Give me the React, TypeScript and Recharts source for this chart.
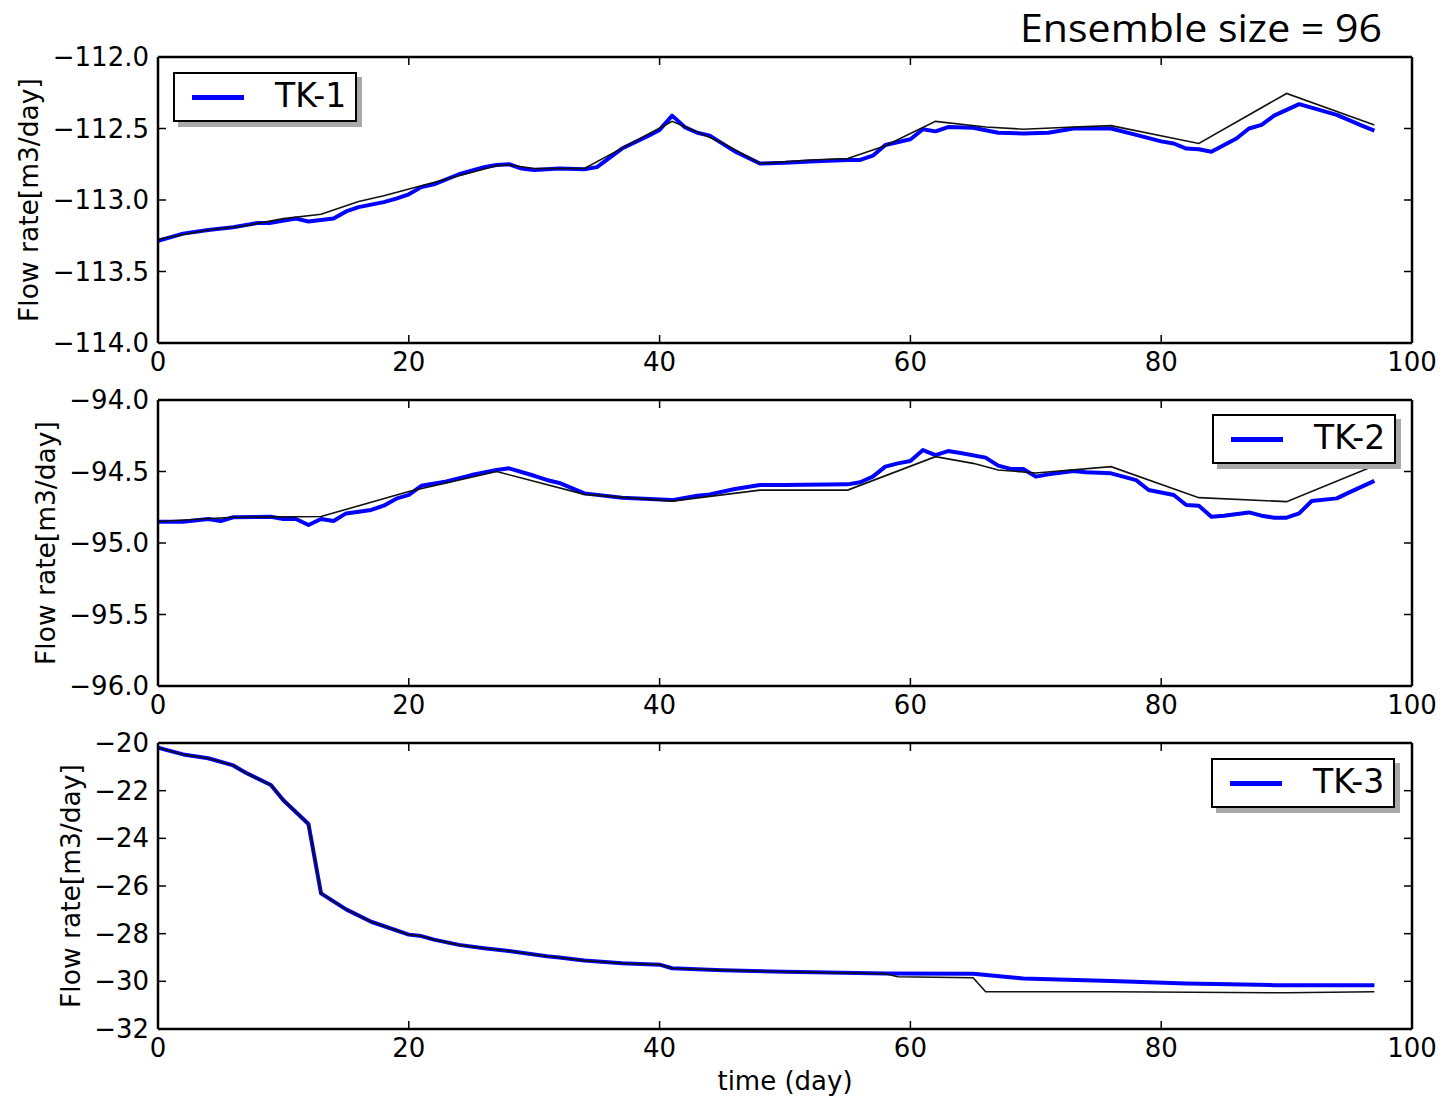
import React from 'react';
import { LineChart, Line, XAxis, YAxis, Legend, Label } from 'recharts';

// Shared x axis (simulation time in days)
const dayTicks = [0, 20, 40, 60, 80, 100];

// TK-1: ensemble mean (blue) and reference run (black)
const tk1Days = [0, 2, 4, 6, 8, 9, 11, 12, 14, 15, 16, 18, 19, 20, 21, 22, 24, 26, 27, 28, 29, 30, 32, 34, 35, 37, 39, 40, 41, 42, 43, 44, 46, 48, 50, 52, 55, 56, 57, 58, 60, 61, 62, 63, 65, 67, 69, 71, 73, 76, 78, 80, 81, 82, 83, 84, 86, 87, 88, 89, 91, 94, 96, 97];
const tk1Ensemble = [-113.285, -113.235, -113.21, -113.19, -113.16, -113.16, -113.13, -113.15, -113.13, -113.08, -113.05, -113.015, -112.99, -112.96, -112.91, -112.89, -112.82, -112.77, -112.755, -112.75, -112.78, -112.79, -112.78, -112.785, -112.77, -112.64, -112.555, -112.51, -112.41, -112.49, -112.53, -112.55, -112.66, -112.745, -112.74, -112.73, -112.72, -112.72, -112.69, -112.615, -112.575, -112.505, -112.52, -112.49, -112.495, -112.53, -112.535, -112.53, -112.5, -112.5, -112.545, -112.59, -112.605, -112.64, -112.645, -112.662, -112.57, -112.5, -112.475, -112.41, -112.33, -112.405, -112.48, -112.515];
const tk1RefDays = [0, 4, 7, 10, 13, 16, 18, 21, 24, 27, 28, 30, 34, 41, 45, 48, 52, 55, 58, 62, 66, 69, 73, 76, 83, 90, 97];
const tk1Ref = [-113.275, -113.21, -113.18, -113.13, -113.1, -113.01, -112.97, -112.9, -112.83, -112.76, -112.755, -112.78, -112.78, -112.45, -112.6, -112.745, -112.72, -112.71, -112.62, -112.45, -112.49, -112.505, -112.49, -112.48, -112.605, -112.255, -112.475];
const tk1Ticks = [-114, -113.5, -113, -112.5, -112];

// TK-2
const tk2Days = [0, 2, 4, 5, 6, 9, 10, 11, 12, 13, 14, 15, 17, 18, 19, 20, 21, 23, 25, 27, 28, 30, 31, 32, 34, 37, 41, 43, 44, 46, 48, 50, 55, 56, 57, 58, 59, 60, 61, 62, 63, 64, 66, 67, 68, 69, 70, 71, 73, 74, 76, 78, 79, 81, 82, 83, 84, 85, 87, 88, 89, 90, 91, 92, 94, 95, 97];
const tk2Ensemble = [-94.851, -94.851, -94.832, -94.846, -94.82, -94.816, -94.832, -94.832, -94.874, -94.832, -94.846, -94.793, -94.769, -94.739, -94.69, -94.664, -94.6, -94.57, -94.525, -94.49, -94.478, -94.53, -94.559, -94.58, -94.653, -94.683, -94.7, -94.669, -94.66, -94.622, -94.594, -94.594, -94.59, -94.575, -94.536, -94.466, -94.443, -94.427, -94.35, -94.385, -94.357, -94.37, -94.403, -94.459, -94.482, -94.482, -94.536, -94.52, -94.496, -94.506, -94.513, -94.56, -94.629, -94.664, -94.734, -94.739, -94.816, -94.809, -94.786, -94.809, -94.823, -94.823, -94.793, -94.706, -94.688, -94.646, -94.566];
const tk2RefDays = [0, 6, 13, 20, 27, 34, 41, 48, 55, 62, 65, 67, 70, 76, 83, 90, 97];
const tk2Ref = [-94.85, -94.82, -94.815, -94.64, -94.5, -94.66, -94.707, -94.63, -94.63, -94.396, -94.443, -94.489, -94.51, -94.466, -94.683, -94.711, -94.459];
const tk2Ticks = [-96, -95.5, -95, -94.5, -94];

// TK-3
const tk3Days = [0, 2, 4, 6, 7, 9, 10, 12, 13, 15, 17, 20, 21, 22, 24, 26, 28, 31, 32, 34, 37, 40, 41, 45, 50, 58, 65, 69, 76, 82, 89, 97];
const tk3Ensemble = [-20.2, -20.48, -20.64, -20.94, -21.25, -21.76, -22.4, -23.4, -26.31, -26.98, -27.5, -28.04, -28.1, -28.25, -28.47, -28.61, -28.73, -28.95, -29.0, -29.13, -29.24, -29.3, -29.45, -29.53, -29.6, -29.67, -29.68, -29.88, -29.99, -30.09, -30.16, -30.16];
const tk3RefDays = [0, 2, 4, 6, 7, 9, 10, 12, 13, 15, 17, 20, 21, 22, 24, 26, 28, 31, 32, 34, 37, 40, 41, 45, 50, 58, 59, 65, 66, 76, 90, 97];
const tk3Ref = [-20.2, -20.48, -20.64, -20.94, -21.25, -21.76, -22.4, -23.4, -26.31, -26.98, -27.5, -28.04, -28.1, -28.25, -28.47, -28.61, -28.73, -28.95, -29.0, -29.13, -29.24, -29.3, -29.45, -29.53, -29.6, -29.68, -29.81, -29.85, -30.44, -30.44, -30.48, -30.44];
const tk3Ticks = [-32, -30, -28, -26, -24, -22, -20];

const FONT = '"DejaVu Sans", "Liberation Sans", sans-serif';
const PLOT_LEFT = 158;
const PLOT_RIGHT = 1412;
const PLOT_TOP = 57;
const PLOT_H = 286;
const PLOT_BOTTOM = PLOT_TOP + PLOT_H;
const XAXIS_H = 40;
const TICK_LEN = 8;

const toPoints = (days: number[], vals: number[]) => days.map((day, i) => ({ day, q: vals[i] }));
const withMinus = (s: string) => s.replace('-', '\u2212');
const fmtOne = (v: number) => withMinus(v.toFixed(1));
const fmtInt = (v: number) => withMinus(String(v));

// Inward-pointing tick marks with labels outside the frame
const BottomTick = (props: any) => {
  const x = props.x;
  return (
    <g>
      <line x1={x} x2={x} y1={PLOT_BOTTOM} y2={PLOT_BOTTOM - TICK_LEN} stroke="#000" strokeWidth={1.5} />
      <text x={x} y={PLOT_BOTTOM + 28} textAnchor="middle" fontSize={26} fontFamily={FONT} fill="#000">
        {props.payload.value}
      </text>
    </g>
  );
};

const TopTick = (props: any) => (
  <line x1={props.x} x2={props.x} y1={PLOT_TOP} y2={PLOT_TOP + TICK_LEN} stroke="#000" strokeWidth={1.5} />
);

const makeLeftTick = (fmt: (v: number) => string) => (props: any) => {
  const y = props.y;
  return (
    <g>
      <line x1={PLOT_LEFT} x2={PLOT_LEFT + TICK_LEN} y1={y} y2={y} stroke="#000" strokeWidth={1.5} />
      <text x={PLOT_LEFT - 9} y={y + 9} textAnchor="end" fontSize={26} fontFamily={FONT} fill="#000">
        {fmt(props.payload.value)}
      </text>
    </g>
  );
};

const RightTick = (props: any) => (
  <line x1={PLOT_RIGHT} x2={PLOT_RIGHT - TICK_LEN} y1={props.y} y2={props.y} stroke="#000" strokeWidth={1.5} />
);

function LegendBox({ name }: { name: string }) {
  return (
    <div
      style={{
        position: 'relative',
        width: 184,
        height: 50,
        boxSizing: 'border-box',
        border: '2.5px solid #000',
        background: '#fff',
        boxShadow: '5px 5px 0 #a9a9a9',
        fontFamily: FONT,
      }}
    >
      <div style={{ position: 'absolute', left: 17, top: 21, width: 52, height: 5, background: '#0000ff' }} />
      <div style={{ position: 'absolute', left: 100, top: 0, lineHeight: '44px', fontSize: 33, color: '#000' }}>{name}</div>
    </div>
  );
}

type PanelProps = {
  top: number;
  height: number;
  name: string;
  ens: { day: number; q: number }[];
  ref: { day: number; q: number }[];
  domain: [number, number];
  ticks: number[];
  fmt: (v: number) => string;
  legendX: number;
  legendY: number;
  yLabelX: number;
  xLabel?: string;
};

function Panel(p: PanelProps) {
  const axisLine = { stroke: '#000', strokeWidth: 2.5 };
  return (
    <div style={{ position: 'absolute', left: 0, top: p.top }}>
      <LineChart
        width={1445}
        height={p.height}
        margin={{
          top: PLOT_TOP - 1,
          right: 1445 - PLOT_RIGHT - 1,
          left: 0,
          bottom: p.height - PLOT_BOTTOM - XAXIS_H,
        }}
      >
        <XAxis
          xAxisId="b"
          dataKey="day"
          type="number"
          domain={[0, 100]}
          ticks={dayTicks}
          interval={0}
          allowDataOverflow
          height={XAXIS_H}
          axisLine={axisLine}
          tickLine={false}
          tick={BottomTick}
        >
          {p.xLabel ? (
            <Label
              content={(props: any) => {
                const vb = props.viewBox || {};
                return (
                  <text
                    x={vb.x + vb.width / 2}
                    y={vb.y + 61}
                    textAnchor="middle"
                    fontSize={26}
                    fontFamily={FONT}
                    fill="#000"
                  >
                    {p.xLabel}
                  </text>
                );
              }}
            />
          ) : null}
        </XAxis>
        <XAxis
          xAxisId="t"
          orientation="top"
          dataKey="day"
          type="number"
          domain={[0, 100]}
          ticks={dayTicks}
          interval={0}
          allowDataOverflow
          height={1}
          axisLine={axisLine}
          tickLine={false}
          tick={TopTick}
        />
        <YAxis
          yAxisId="l"
          type="number"
          domain={p.domain}
          ticks={p.ticks}
          interval={0}
          allowDataOverflow
          width={PLOT_LEFT}
          axisLine={axisLine}
          tickLine={false}
          tick={makeLeftTick(p.fmt)}
        >
          <Label
            content={(props: any) => {
              const vb = props.viewBox || {};
              const cy = vb.y + vb.height / 2;
              return (
                <text
                  x={p.yLabelX}
                  y={cy}
                  transform={`rotate(-90 ${p.yLabelX} ${cy})`}
                  textAnchor="middle"
                  dominantBaseline="central"
                  fontSize={26.5}
                  fontFamily={FONT}
                  fill="#000"
                >
                  Flow rate[m3/day]
                </text>
              );
            }}
          />
        </YAxis>
        <YAxis
          yAxisId="r"
          orientation="right"
          type="number"
          domain={p.domain}
          ticks={p.ticks}
          interval={0}
          allowDataOverflow
          width={1}
          axisLine={axisLine}
          tickLine={false}
          tick={RightTick}
        />
        <Line
          xAxisId="b"
          yAxisId="l"
          data={p.ens}
          dataKey="q"
          name={p.name}
          type="linear"
          stroke="#0000ff"
          strokeWidth={4}
          strokeLinejoin="round"
          dot={false}
          activeDot={false}
          isAnimationActive={false}
        />
        <Line
          xAxisId="t"
          yAxisId="r"
          data={p.ref}
          dataKey="q"
          name="reference"
          type="linear"
          stroke="#111"
          strokeWidth={1.6}
          dot={false}
          activeDot={false}
          legendType="none"
          isAnimationActive={false}
        />
        <Legend
          layout="horizontal"
          align="center"
          verticalAlign="middle"
          wrapperStyle={{ left: p.legendX, top: p.legendY, width: 190, height: 56 }}
          content={() => <LegendBox name={p.name} />}
        />
      </LineChart>
    </div>
  );
}

export default function App() {
  return (
    <div
      style={{
        position: 'absolute',
        left: 0,
        top: 0,
        width: 1445,
        height: 1097,
        overflow: 'hidden',
        background: '#fff',
      }}
    >
      <svg width={1445} height={60} style={{ position: 'absolute', left: 0, top: 0 }}>
        <text
          x={1020}
          y={42}
          fontSize={38}
          fontFamily='"Open Sans", "Noto Sans", sans-serif'
          fill="#000"
          textLength={362}
          lengthAdjust="spacingAndGlyphs"
        >
          Ensemble size = 96
        </text>
      </svg>
      <Panel
        top={0}
        height={400}
        name="TK-1"
        ens={toPoints(tk1Days, tk1Ensemble)}
        ref={toPoints(tk1RefDays, tk1Ref)}
        domain={[-114, -112]}
        ticks={tk1Ticks}
        fmt={fmtOne}
        legendX={173}
        legendY={72}
        yLabelX={28}
      />
      <Panel
        top={343}
        height={400}
        name="TK-2"
        ens={toPoints(tk2Days, tk2Ensemble)}
        ref={toPoints(tk2RefDays, tk2Ref)}
        domain={[-96, -94]}
        ticks={tk2Ticks}
        fmt={fmtOne}
        legendX={1212}
        legendY={71}
        yLabelX={45}
      />
      <Panel
        top={686}
        height={411}
        name="TK-3"
        ens={toPoints(tk3Days, tk3Ensemble)}
        ref={toPoints(tk3RefDays, tk3Ref)}
        domain={[-32, -20]}
        ticks={tk3Ticks}
        fmt={fmtInt}
        legendX={1211}
        legendY={72}
        yLabelX={70}
        xLabel="time (day)"
      />
    </div>
  );
}
